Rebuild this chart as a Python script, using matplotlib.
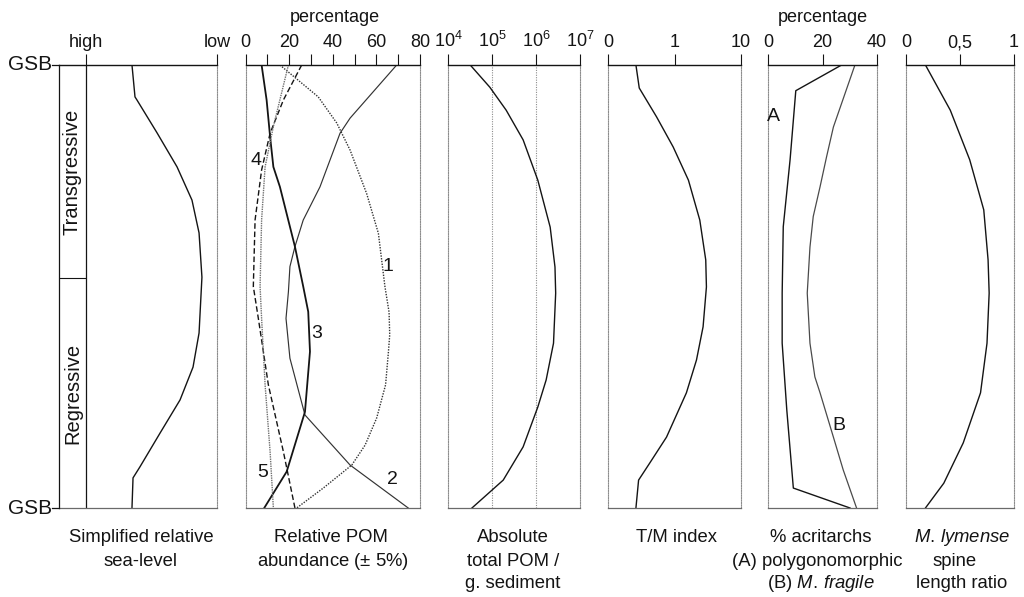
import matplotlib
matplotlib.use("Agg")
import matplotlib.pyplot as plt
from matplotlib.lines import Line2D

plt.rcParams['font.family'] = ['Liberation Sans', 'DejaVu Sans']
plt.rcParams['mathtext.fontset'] = 'custom'
plt.rcParams['mathtext.rm'] = 'Liberation Sans'
plt.rcParams['mathtext.it'] = 'Liberation Sans:italic'

# ---- data (position within the sequence: 0 = upper GSB, 100 = lower GSB) ----
# Simplified relative sea-level (0 = high, 1 = low)
sea_pos = [0, 7.2, 7.9, 15.3, 23.0, 30.5, 37.9, 47.9, 60.5, 68.2, 75.6, 83.1, 90.7, 93.2, 100]
sea_level = [0.351, 0.374, 0.389, 0.542, 0.695, 0.809, 0.863, 0.885, 0.863, 0.817,
             0.718, 0.565, 0.412, 0.359, 0.351]

# Relative POM abundance (%), categories 1-5
pom1_pos = [0, 7.2, 13.1, 19.2, 29.0, 38.0, 50.0, 55.8, 60.9, 64.8, 72.2, 79.7, 85.8, 90.3, 95.5, 100]
pom1 = [15.7, 33.3, 41.8, 47.9, 55.5, 60.9, 63.9, 65.8, 66.1, 65.5, 64.2, 60.1, 54.8, 48.7, 35.6, 23.4]
pom2_pos = [0, 12.0, 15.4, 27.5, 35.0, 41.0, 45.5, 51.2, 57.2, 66.2, 79.0, 90.3, 100]
pom2 = [69.3, 47.9, 43.3, 34.1, 26.4, 22.6, 20.3, 19.6, 18.5, 20.3, 27.2, 47.9, 74.6]
pom3_pos = [0, 7.9, 16.2, 23.0, 27.5, 41.0, 50.0, 55.7, 64.7, 78.3, 91.8, 100]
pom3 = [7.3, 9.6, 11.2, 12.7, 15.7, 22.6, 26.4, 28.7, 29.5, 27.2, 18.8, 8.5]
pom4_pos = [0, 7.9, 15.4, 23.7, 35.0, 50.0, 57.2, 72.2, 87.3, 100]
pom4 = [25.7, 17.3, 11.2, 7.3, 4.3, 3.5, 5.8, 10.4, 17.3, 22.6]
pom5_pos = [0, 13.9, 23.0, 35.0, 50.0, 57.2, 72.2, 87.3, 100]
pom5 = [19.6, 12.7, 8.9, 7.3, 6.6, 7.3, 8.9, 11.2, 12.7]

# Absolute total POM per gram of sediment
abs_pos = [0, 5.0, 10.2, 16.9, 26.0, 36.6, 45.6, 51.5, 62.8, 71.1, 77.2, 86.2, 93.7, 100]
abs_pom = [3.2e4, 8.9e4, 2.1e5, 5.1e5, 1.1e6, 2.1e6, 2.7e6, 2.8e6, 2.5e6, 1.7e6,
           1.1e6, 5.1e5, 1.8e5, 3.5e4]

# T/M index
tm_pos = [0, 5.2, 11.7, 18.5, 26.0, 35.0, 44.0, 50.1, 59.1, 66.6, 74.0, 84.0, 89.8, 93.7, 100]
tm_index = [0.42, 0.47, 0.73, 0.98, 1.62, 2.40, 2.95, 3.02, 2.69, 2.14, 1.51, 0.88, 0.63, 0.46, 0.42]

# % acritarchs: (A) polygonomorphic, (B) M. fragile
acA_pos = [0, 5.8, 21.4, 36.5, 51.5, 62.8, 77.9, 95.5, 100]
acA = [27.0, 10.2, 8.1, 5.6, 5.2, 5.2, 6.9, 9.3, 30.1]
acB_pos = [0, 14.0, 20.7, 27.5, 34.2, 41.1, 51.5, 62.8, 70.4, 74.0, 84.0, 91.4, 100]
acB = [31.9, 24.0, 21.5, 19.1, 16.6, 15.4, 14.4, 15.4, 17.2, 19.1, 24.0, 27.6, 32.5]

# M. lymense spine length ratio
spine_pos = [0, 10.2, 21.4, 32.7, 44.0, 51.5, 62.8, 74.0, 85.3, 94.4, 100]
spine_ratio = [0.18, 0.41, 0.59, 0.72, 0.76, 0.77, 0.75, 0.69, 0.53, 0.35, 0.18]

tract_labels = ["Transgressive", "Regressive"]
tract_boundary = 48.1

W, H = 1024, 597
fig = plt.figure(figsize=(W / 100, H / 100), dpi=100)

TOP, BOT = 65, 508
INK = '#141414'
GRID = '#8c8c8c'


def fx(px):
    return px / W


def fy(py):
    return 1 - py / H


def make_axes(x0, x1):
    ax = fig.add_axes([fx(x0), fy(BOT), fx(x1 - x0), (BOT - TOP) / H])
    ax.set_ylim(100, 0)
    ax.set_yticks([])
    ax.xaxis.set_ticks_position('top')
    ax.xaxis.set_label_position('top')
    ax.tick_params(axis='x', which='both', direction='out', length=8, width=0.8,
                   color=INK, labelsize=13, pad=2, labelcolor=INK)
    ax.tick_params(axis='x', which='minor', length=8)
    ax.spines['top'].set_color(INK)
    ax.spines['top'].set_linewidth(1.0)
    ax.spines['bottom'].set_color('#6a6a6a')
    ax.spines['bottom'].set_linewidth(0.9)
    for s in ('left', 'right'):
        ax.spines[s].set_color(GRID)
        ax.spines[s].set_linewidth(0.8)
        ax.spines[s].set_linestyle((0, (1, 1.2)))
    ax.patch.set_alpha(0)
    return ax


LW = 1.0

# Panel 1: sea level with systems-tract column
x_high, x_low, x_col = 86, 217, 59
ax1 = make_axes(x_col, x_low)
ax1.set_xlim(-(x_high - x_col) / (x_low - x_high), 1)
ax1.set_xticks([0, 1], ['high', 'low'])
ax1.spines['left'].set_color(INK)
ax1.spines['left'].set_linestyle('-')
ax1.spines['left'].set_linewidth(0.9)
ax1.axvline(0, color=INK, lw=0.9)
ax1.plot([ax1.get_xlim()[0], 0], [tract_boundary, tract_boundary], color=INK, lw=0.8,
         solid_capstyle='butt')
ax1.plot(sea_level, sea_pos, color=INK, lw=LW)
col_mid = ax1.get_xlim()[0] / 2
ax1.text(col_mid, tract_boundary / 2, tract_labels[0], rotation=90, ha='center',
         va='center', fontsize=14.5, color=INK)
ax1.text(col_mid, (tract_boundary + 100) / 2, tract_labels[1], rotation=90,
         ha='center', va='center', fontsize=14.5, color=INK)

# Panel 2: relative POM abundance
ax2 = make_axes(245.7, 420)
ax2.set_xlim(0, 80)
ax2.set_xticks([0, 20, 40, 60, 80])
ax2.set_xticks([10, 30, 50, 70], minor=True)
ax2.plot(pom1, pom1_pos, color='#333333', lw=1.0, ls=(0, (1, 1)))
ax2.plot(pom2, pom2_pos, color='#333333', lw=0.85)
ax2.plot(pom3, pom3_pos, color=INK, lw=1.3)
ax2.plot(pom4, pom4_pos, color=INK, lw=1.0, ls=(0, (4, 2)))
ax2.plot(pom5, pom5_pos, color='#707070', lw=1.0, ls=(0, (1, 0.7)))
for lab, xv, yv in [('1', 65.5, 45.5), ('2', 67.5, 93.5), ('3', 32.5, 60.7),
                    ('4', 4.7, 21.5), ('5', 8.0, 92.0)]:
    ax2.text(xv, yv, lab, fontsize=14, ha='center', va='center', color=INK)

# Panel 3: absolute POM (log scale)
ax3 = make_axes(448, 580)
ax3.set_xscale('log')
ax3.set_xlim(1e4, 1e7)
ax3.set_xticks([1e4, 1e5, 1e6, 1e7], [r'$10^4$', r'$10^5$', r'$10^6$', r'$10^7$'])
ax3.xaxis.set_minor_locator(matplotlib.ticker.NullLocator())
for g in (1e5, 1e6):
    ax3.axvline(g, color=GRID, lw=0.8, ls=(0, (1, 1.2)))
ax3.plot(abs_pom, abs_pos, color=INK, lw=LW)

# Panel 4: T/M index (0, 1, 10 evenly spaced)
ax4 = make_axes(608, 741)
ax4.set_xscale('symlog', linthresh=1, linscale=0.9)
ax4.set_xlim(0, 10)
ax4.set_xticks([0, 1, 10], ['0', '1', '10'])
ax4.xaxis.set_minor_locator(matplotlib.ticker.NullLocator())
ax4.plot(tm_index, tm_pos, color=INK, lw=LW)

# Panel 5: % acritarchs
ax5 = make_axes(768, 877)
ax5.set_xlim(0, 40)
ax5.set_xticks([0, 20, 40])
ax5.plot(acA, acA_pos, color=INK, lw=LW)
ax5.plot(acB, acB_pos, color='#4a4a4a', lw=0.9)
ax5.text(2.0, 11.7, 'A', fontsize=14, ha='center', va='center', color=INK)
ax5.text(26.0, 81.3, 'B', fontsize=14, ha='center', va='center', color=INK)

# Panel 6: M. lymense spine length ratio
ax6 = make_axes(906, 1014)
ax6.set_xlim(0, 1)
ax6.set_xticks([0, 0.5, 1], ['0', '0,5', '1'])
ax6.plot(spine_ratio, spine_pos, color=INK, lw=LW)

# GSB markers
for py in (TOP, BOT):
    fig.add_artist(Line2D([fx(52), fx(59)], [fy(py), fy(py)], color=INK, lw=0.9))
    fig.text(fx(52), fy(py), 'GSB', ha='right', va='center', fontsize=15, color=INK)

fig.text(fx(335), fy(18), 'percentage', ha='center', va='center', fontsize=13, color=INK)
fig.text(fx(823), fy(18), 'percentage', ha='center', va='center', fontsize=13, color=INK)

# Column captions
captions = [
    (141, 538, 'Simplified relative'), (141, 561, 'sea-level'),
    (331, 538, 'Relative POM'), (333, 561, r'abundance ($\pm$ 5%)'),
    (513, 538, 'Absolute'), (513, 561, 'total POM /'), (513, 583, 'g. sediment'),
    (676, 538, 'T/M index'),
    (821, 538, '% acritarchs'), (817, 561, '(A) polygonomorphic'),
    (821, 583, r'(B) $\it{M.\,fragile}$'),
    (962, 538, r'$\it{M.\,lymense}$'), (955, 561, 'spine'), (962, 583, 'length ratio'),
]
for cx, cy, txt in captions:
    fig.text(fx(cx), fy(cy), txt, ha='center', va='center', fontsize=13.3, color=INK)

fig.savefig('out.png', dpi=100)
